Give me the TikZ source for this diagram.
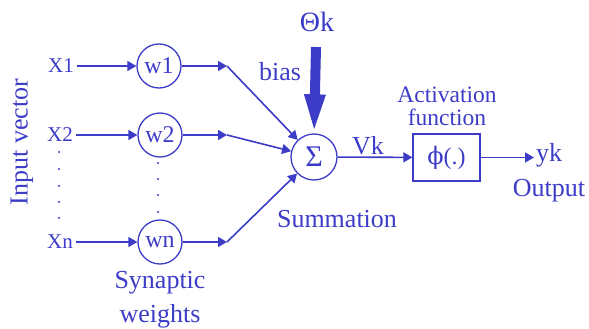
\documentclass[tikz,border=0pt]{standalone}
\usepackage{fontspec}
\setmainfont{Liberation Serif}
\newfontfamily\tnr{Liberation Serif}
\newfontfamily\dvs{DejaVu Serif}
\usetikzlibrary{arrows.meta}
\definecolor{nblue}{RGB}{60,60,200}
\begin{document}
\begin{tikzpicture}[x=1pt,y=-1pt,
  every node/.style={text=nblue, inner sep=0pt},
  lbl/.style={font=\tnr\fontsize{26}{31}\selectfont},
  inp/.style={font=\tnr\fontsize{21}{25}\selectfont, inner sep=2.5pt},
  wcirc/.style={draw=nblue, circle, line width=1.3pt, minimum size=44pt, font=\tnr\fontsize{24}{28}\selectfont},
  arr/.style={draw=nblue, line width=1.6pt, -{Triangle[length=9pt,width=10pt]}},
  dotm/.style={fill=nblue, draw=none}
]
\useasboundingbox (0,0) rectangle (589,329);

% inputs
\node[inp] (x1) at (61,66) {X1};
\node[inp] (x2) at (60,135) {X2};
\node[inp] (xn) at (60,242) {Xn};
\node[lbl, rotate=90] (iv) at (22,142) {Input vector};

% weights
\node[wcirc] (w1) at (159,66) {w1};
\node[wcirc] (w2) at (160,135) {w2};
\node[wcirc] (wn) at (160,242) {wn};
\node[lbl] (syn1) at (160,283) {Synaptic};
\node[lbl] (syn2) at (160,316) {weights};

% summation
\node[draw=nblue, circle, line width=1.3pt, minimum size=46pt, font=\tnr\fontsize{30}{34}\selectfont] (sig) at (314,157) {Σ};
\node[lbl] (sum) at (337,219) {Summation};
\node[font=\tnr\fontsize{28}{32}\selectfont] (th) at (317,22) {Θk};
\node[lbl] (bias) at (280,72) {bias};
\node[lbl] (vk) at (368,146) {Vk};

% activation
\node[draw=nblue, line width=1.3pt, minimum width=67pt, minimum height=47pt, font=\tnr\fontsize{24}{28}\selectfont] (phi) at (446.5,157.5) {{\dvs ϕ}(.)};
\node[font=\tnr\fontsize{23.5}{21}\selectfont] (act1) at (447,95) {Activation};
\node[font=\tnr\fontsize{23.5}{21}\selectfont] (act2) at (447,117) {function};
\node[lbl, anchor=west] (yk) at (536,155) {yk};
\node[lbl] (out) at (549,191) {Output};

% connector points
\coordinate (m1) at (227,66);
\coordinate (m2) at (227,135);
\coordinate (m3) at (227,242);
\coordinate (thtop) at (316,47);
\coordinate (ykin) at (534,157.5);

% connectors
\draw[arr] (x1) -- (w1);
\draw[arr] (x2) -- (w2);
\draw[arr] (xn) -- (wn);
\draw[arr] (w1) -- (m1);
\draw[arr] (w2) -- (m2);
\draw[arr] (wn) -- (m3);
\draw[arr] (m1) -- (sig);
\draw[arr] (m2) -- (sig);
\draw[arr] (m3) -- (sig);
\draw[draw=nblue, line width=10pt, -{Triangle[length=42pt,width=18pt]}] (thtop) -- ([yshift=-3pt]sig.north);
\draw[arr] (sig) -- (phi);
\draw[arr] (phi) -- (ykin);

% dots
\foreach \y in {152,169,186,202,218} \fill[dotm] (59,\y) circle (1.2);
\foreach \y in {163,179,195,212} \fill[dotm] (158,\y) circle (1.2);
\end{tikzpicture}
\end{document}
